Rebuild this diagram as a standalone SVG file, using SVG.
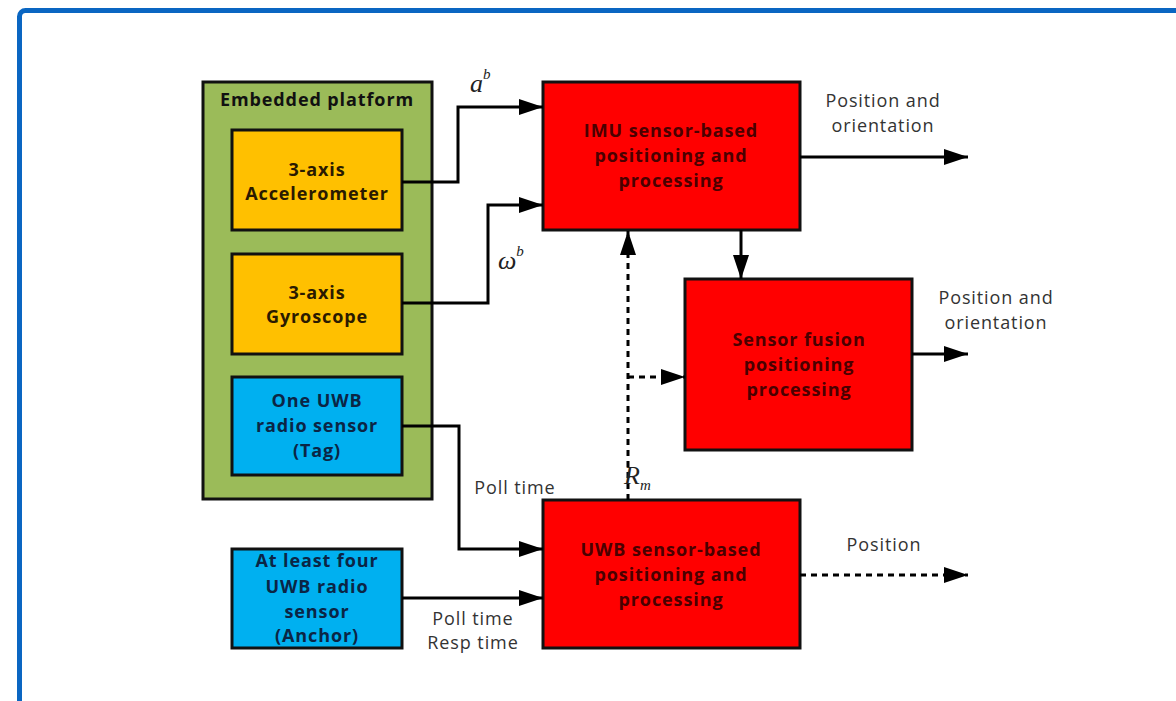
<svg xmlns="http://www.w3.org/2000/svg" width="1176" height="701" viewBox="0 0 1176 701">
<style>
.box{stroke:#111;stroke-width:3}
.bt{font-family:"Open Sans","Liberation Sans",sans-serif;font-weight:bold;font-size:18px;letter-spacing:0.9px;text-anchor:middle}
.lt{font-family:"Open Sans","Liberation Sans",sans-serif;font-size:18px;letter-spacing:0.9px;fill:#333;text-anchor:middle}
.mt{font-family:"Liberation Serif",serif;font-style:italic;font-size:26px;fill:#222}
.ms{font-family:"Liberation Serif",serif;font-style:italic;font-size:15px;fill:#222}
.c{fill:none;stroke:#000;stroke-width:3}
.d{stroke-dasharray:6 5}
</style>
<defs>
<marker id="ah" markerUnits="userSpaceOnUse" markerWidth="26" markerHeight="16" refX="24" refY="8" orient="auto">
<path d="M0,0 L24,8 L0,16 z" fill="#000"/>
</marker>
</defs>
<rect x="19.5" y="10.5" width="1200" height="720" rx="6" fill="#fff" stroke="#0a66c2" stroke-width="5"/>
<g id="platform">
<rect class="box" x="203" y="82" width="229" height="417" fill="#9bbb59"/>
<text class="bt" x="317" y="106" fill="#111">Embedded platform</text>
</g>
<g id="accel">
<rect class="box" x="232" y="130" width="170" height="100" fill="#ffc000"/>
<text class="bt" x="317" y="176" fill="#2a1a00">3-axis</text>
<text class="bt" x="317" y="200" fill="#2a1a00">Accelerometer</text>
</g>
<g id="gyro">
<rect class="box" x="232" y="254" width="170" height="100" fill="#ffc000"/>
<text class="bt" x="317" y="299" fill="#2a1a00">3-axis</text>
<text class="bt" x="317" y="323" fill="#2a1a00">Gyroscope</text>
</g>
<g id="tag">
<rect class="box" x="232" y="377" width="170" height="98" fill="#00b0f0"/>
<text class="bt" x="317" y="407" fill="#0b2545">One UWB</text>
<text class="bt" x="317" y="432" fill="#0b2545">radio sensor</text>
<text class="bt" x="317" y="457" fill="#0b2545">(Tag)</text>
</g>
<g id="anchor">
<rect class="box" x="232" y="549" width="170" height="99" fill="#00b0f0"/>
<text class="bt" x="317" y="567" fill="#0b2545">At least four</text>
<text class="bt" x="317" y="593" fill="#0b2545">UWB radio</text>
<text class="bt" x="317" y="618" fill="#0b2545">sensor</text>
<text class="bt" x="317" y="642" fill="#0b2545">(Anchor)</text>
</g>
<g id="imu">
<rect class="box" x="543" y="82" width="257" height="148" fill="#ff0000"/>
<text class="bt" x="671" y="137" fill="#4a0000">IMU sensor-based</text>
<text class="bt" x="671" y="162" fill="#4a0000">positioning and</text>
<text class="bt" x="671" y="187" fill="#4a0000">processing</text>
</g>
<g id="fusion">
<rect class="box" x="685" y="279" width="227" height="171" fill="#ff0000"/>
<text class="bt" x="799" y="346" fill="#4a0000">Sensor fusion</text>
<text class="bt" x="799" y="371" fill="#4a0000">positioning</text>
<text class="bt" x="799" y="396" fill="#4a0000">processing</text>
</g>
<g id="uwb">
<rect class="box" x="543" y="500" width="257" height="148" fill="#ff0000"/>
<text class="bt" x="671" y="556" fill="#4a0000">UWB sensor-based</text>
<text class="bt" x="671" y="581" fill="#4a0000">positioning and</text>
<text class="bt" x="671" y="606" fill="#4a0000">processing</text>
</g>
<g id="connectors">
<path class="c" d="M402,182 H458 V107 H543" marker-end="url(#ah)"/>
<path class="c" d="M402,303 H488 V205 H543" marker-end="url(#ah)"/>
<path class="c" d="M402,426 H459 V549 H543" marker-end="url(#ah)"/>
<path class="c" d="M402,598 H543" marker-end="url(#ah)"/>
<path class="c" d="M800,157 H968" marker-end="url(#ah)"/>
<path class="c" d="M741,230 V279" marker-end="url(#ah)"/>
<path class="c" d="M912,354 H968" marker-end="url(#ah)"/>
<path class="c d" d="M800,575 H968" marker-end="url(#ah)"/>
<path class="c d" d="M628,500 V231" marker-end="url(#ah)"/>
<path class="c d" d="M628,377 H685" marker-end="url(#ah)"/>
</g>
<g id="labels">
<text class="mt" x="470" y="92">a<tspan class="ms" dy="-13">b</tspan></text>
<text class="mt" x="498" y="269">ω<tspan class="ms" dy="-13">b</tspan></text>
<text class="mt" x="624" y="484">R<tspan class="ms" dy="6">m</tspan></text>
<text class="lt" x="515" y="494">Poll time</text>
<text class="lt" x="473" y="625">Poll time</text>
<text class="lt" x="473" y="649">Resp time</text>
<text class="lt" x="883" y="107">Position and</text>
<text class="lt" x="883" y="132">orientation</text>
<text class="lt" x="996" y="304">Position and</text>
<text class="lt" x="996" y="329">orientation</text>
<text class="lt" x="884" y="551">Position</text>
</g>
</svg>
